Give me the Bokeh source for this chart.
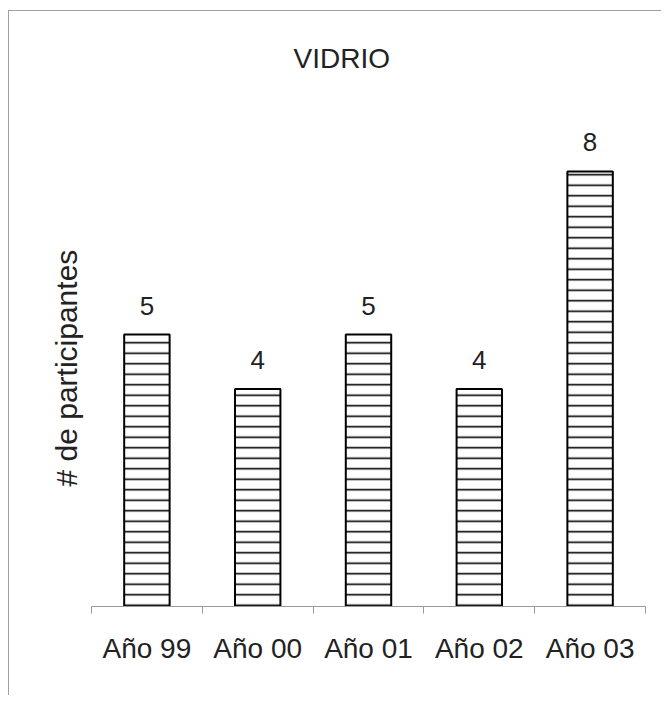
from bokeh.plotting import figure
from bokeh.models import ColumnDataSource, FixedTicker, LabelSet, Range1d, Title
from bokeh.core.properties import value
from bokeh.embed import file_html
from bokeh.resources import INLINE

# data
categories = ["Año 99", "Año 00", "Año 01", "Año 02", "Año 03"]
participants = [5, 4, 5, 4, 8]
title_text = "VIDRIO"
y_label = "# de participantes"

xs = list(range(1, len(categories) + 1))
src = ColumnDataSource(dict(x=xs, top=participants, label=[str(v) for v in participants]))

FONT = "Liberation Sans"
TXT = "#222222"

p = figure(width=653, height=685, output_backend="svg", toolbar_location=None,
           x_range=Range1d(0.5, len(categories) + 0.5), y_range=Range1d(0, 9.71),
           min_border_left=82, min_border_right=17, min_border_bottom=90, min_border_top=67,
           title=title_text)

p.styles = {"margin-left": "8px", "margin-top": "10px",
            "border-left": "1px solid #a0a0a0", "border-top": "1px solid #a0a0a0"}
p.background_fill_color = "white"
p.border_fill_color = "white"
p.outline_line_color = None
p.grid.visible = False

p.title.text_font = FONT
p.title.text_font_size = "28px"
p.title.text_font_style = "normal"
p.title.text_color = TXT
p.title.align = "left"
p.title.offset = 202
p.title.standoff = 10

# y-axis title as a left-side title
ytitle = Title(text=y_label, align="left", offset=120, standoff=18,
               text_font=FONT, text_font_size="30px", text_font_style="normal",
               text_color=TXT)
p.add_layout(ytitle, "left")
p.yaxis.visible = False

p.vbar(x="x", top="top", width=0.41, bottom=0, source=src,
       fill_color="white", line_color="black", line_width=2,
       hatch_pattern="horizontal_line", hatch_color="black",
       hatch_scale=10.5, hatch_weight=1.6)

labels = LabelSet(x="x", y="top", text="label", source=src,
                  text_align="center", text_baseline="bottom", y_offset=20,
                  text_font=value(FONT), text_font_size=value("26px"), text_color=TXT)
p.add_layout(labels)

# x axis: labels at bar centres, small ticks at category boundaries
ticker = FixedTicker(ticks=xs, minor_ticks=[i + 0.5 for i in range(0, len(categories) + 1)])
p.xaxis.ticker = ticker
p.xaxis.major_label_overrides = {x: c for x, c in zip(xs, categories)}
p.xaxis.major_tick_out = 0
p.xaxis.major_tick_in = 0
p.xaxis.minor_tick_out = 7
p.xaxis.minor_tick_in = 0
p.xaxis.minor_tick_line_color = "#999999"
p.xaxis.axis_line_color = "#999999"
p.xaxis.major_label_standoff = 19
p.xaxis.major_label_text_font = FONT
p.xaxis.major_label_text_font_size = "28px"
p.xaxis.major_label_text_color = TXT

open("out.html", "w").write(file_html(p, INLINE))
